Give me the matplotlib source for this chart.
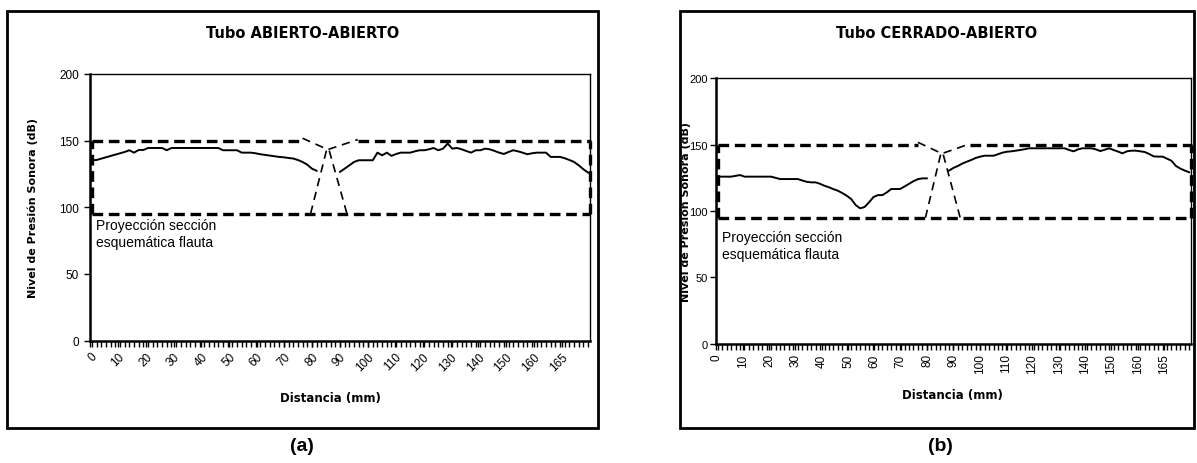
import matplotlib.pyplot as plt
import numpy as np
from matplotlib.patches import Rectangle

plt.rcParams['font.family'] = ['Liberation Sans', 'DejaVu Sans']

nan = np.nan

dist_labels = ['0', '10', '20', '30', '40', '50', '60', '70', '80', '90',
               '100', '110', '120', '130', '140', '150', '160', '165']

# nivel de presion sonora (dB), tubo abierto-abierto
spl_abierto = [135.3, 135.5, 136.5, 137.5, 138.5, 139.5, 140.5, 141.5, 142.8, 141.0,
               143.0, 143.0, 144.5, 144.5, 144.5, 144.5, 142.8, 144.5, 144.5, 144.5,
               144.5, 144.5, 144.5, 144.5, 144.5, 144.5, 144.5, 144.5, 142.8, 142.8,
               142.8, 142.8, 141.0, 141.0, 141.0, 140.5, 139.8, 139.3, 138.8, 138.3,
               137.8, 137.5, 137.0, 136.6, 135.5, 134.0, 132.0, 129.0, 127.4, nan,
               nan, nan, nan, 126.6, 129.0, 131.5, 134.0, 135.3, 135.3, 135.3,
               135.3, 141.0, 139.0, 141.0, 138.6, 140.0, 141.0, 141.0, 141.0, 142.0,
               142.8, 142.8, 143.5, 144.5, 142.8, 144.0, 147.8, 144.0, 144.5, 143.5,
               142.2, 141.0, 142.8, 142.8, 144.0, 143.5, 142.3, 141.0, 140.0, 141.5,
               142.8, 142.0, 141.0, 139.8, 140.5, 141.0, 141.0, 141.0, 137.8, 137.8,
               137.8, 136.8, 135.5, 134.0, 131.5, 128.5, 126.0]

# tubo cerrado-abierto
spl_cerrado = [125.9, 125.9, 125.9, 125.9, 126.5, 127.1, 125.9, 125.9, 125.9, 125.9,
               125.9, 125.9, 125.9, 125.0, 124.1, 124.1, 124.1, 124.1, 124.1, 123.0,
               122.0, 121.6, 121.6, 120.5, 119.0, 117.9, 116.5, 115.3, 113.5, 111.5,
               109.0, 104.5, 102.0, 103.0, 106.5, 110.5, 112.0, 112.0, 114.0, 116.6,
               116.6, 116.6, 118.5, 120.5, 122.5, 124.0, 124.6, 124.6, nan, nan,
               nan, nan, 130.5, 132.5, 134.0, 135.8, 137.2, 138.5, 140.0, 141.0,
               141.7, 141.7, 141.7, 142.8, 144.0, 144.7, 145.0, 145.5, 146.0, 146.6,
               147.3, 147.3, 147.3, 147.3, 147.3, 147.3, 147.3, 147.3, 147.3, 146.0,
               145.0, 146.5, 147.3, 147.3, 147.3, 146.5, 145.2, 146.2, 147.3, 146.0,
               144.8, 143.5, 145.0, 145.5, 145.5, 145.0, 144.5, 143.0, 141.2, 141.0,
               141.0, 139.5, 137.9, 134.0, 132.0, 130.5, 129.2]

# esquema de la flauta (en unidades del eje)
flauta_sup = 150
flauta_inf = 95
boca_x = [45, 50.4, 56.8]
boca_y = [151.8, 143.3, 150.8]
pata_izq_x = [50.1, 46.7]
pata_der_x = [50.7, 54.5]
pata_y = [142.5, 95]

W, H = 1197, 464
fig = plt.figure(figsize=(W / 100, H / 100), dpi=100)
negrita = dict(fontweight='bold', family=['DejaVu Sans'])


def panel(rect, y, rot, titulo, letra, frame, ylab_x, nota_xy, letra_x, ypad, ysize):
    ax = fig.add_axes(rect)
    x = np.arange(len(y))
    n = len(y)
    ax.plot(x, y, color='black', lw=1.4)

    gruesa = dict(color='black', lw=2.4, dashes=(3.2, 1.7), clip_on=False)
    fina = dict(color='black', lw=1.2, dashes=(5, 3.5), clip_on=False)
    ax.plot([0, boca_x[0]], [flauta_sup, flauta_sup], **gruesa)
    ax.plot([boca_x[-1], n - 0.4], [flauta_sup, flauta_sup], **gruesa)
    ax.plot([0, n - 0.6], [flauta_inf, flauta_inf], **gruesa)
    ax.plot([0, 0], [flauta_inf, flauta_sup], **gruesa)
    ax.plot([n - 0.7, n - 0.7], [flauta_inf, flauta_sup], **gruesa)
    ax.plot(boca_x, boca_y, **fina)
    ax.plot(pata_izq_x, pata_y, **fina)
    ax.plot(pata_der_x, pata_y, **fina)

    ax.set_xlim(-0.4, n - 0.6)
    ax.set_ylim(0, 200)
    ax.set_yticks([0, 50, 100, 150, 200])
    ax.set_xticks(np.arange(len(dist_labels)) * 5.92 - 0.3)
    ax.set_xticks(np.arange(n), minor=True)
    if rot == 45:
        ax.set_xticklabels(dist_labels, rotation=45, ha='right', rotation_mode='anchor')
    else:
        ax.set_xticklabels(dist_labels, rotation=90, va='top', ha='center')
    ax.tick_params(axis='x', which='both', length=4, width=1, labelsize=8.5, pad=3)
    ax.tick_params(axis='y', length=4, width=1, labelsize=ysize, pad=ypad)
    for s in ['left', 'bottom']:
        ax.spines[s].set_linewidth(1.8)
    for s in ['top', 'right']:
        ax.spines[s].set_linewidth(1.0)

    ax.set_ylabel('Nivel de Presión Sonora (dB)', fontsize=8, **negrita)
    ax.yaxis.set_label_coords(ylab_x, 0.5)
    fig.text(nota_xy[0] / W, 1 - nota_xy[1] / H, 'Proyección sección\nesquemática flauta',
             fontsize=10, va='top', ha='left', linespacing=1.3)

    fx0, fx1 = frame
    fig.add_artist(Rectangle((fx0 / W, 1 - 429 / H), (fx1 - fx0) / W, 417 / H,
                             transform=fig.transFigure, fill=False, lw=2, ec='black'))
    fig.text((fx0 + fx1) / 2 / W, 1 - 33 / H, titulo, fontsize=10.5,
             ha='center', va='center', **negrita)
    fig.text(letra_x / W, 1 - 447 / H, letra, fontsize=14, fontweight='bold',
             ha='center', va='center')
    return ax


ax1 = panel([90 / W, 1 - 341.6 / H, 500 / W, 266.6 / H], spl_abierto, 45,
            'Tubo ABIERTO-ABIERTO', '(a)', (7, 598), -0.104, (96, 219), 302, 4, 8.5)
fig.text(330 / W, 1 - 399 / H, 'Distancia (mm)', fontsize=8.5,
         ha='center', va='center', **negrita)

ax2 = panel([716 / W, 1 - 344.6 / H, 475 / W, 265.2 / H], spl_cerrado, 90,
            'Tubo CERRADO-ABIERTO', '(b)', (680, 1194), -0.053, (722, 231), 940, 2, 8)
fig.text(952 / W, 1 - 395 / H, 'Distancia (mm)', fontsize=8.5,
         ha='center', va='center', **negrita)

fig.savefig('out.png', dpi=100)
